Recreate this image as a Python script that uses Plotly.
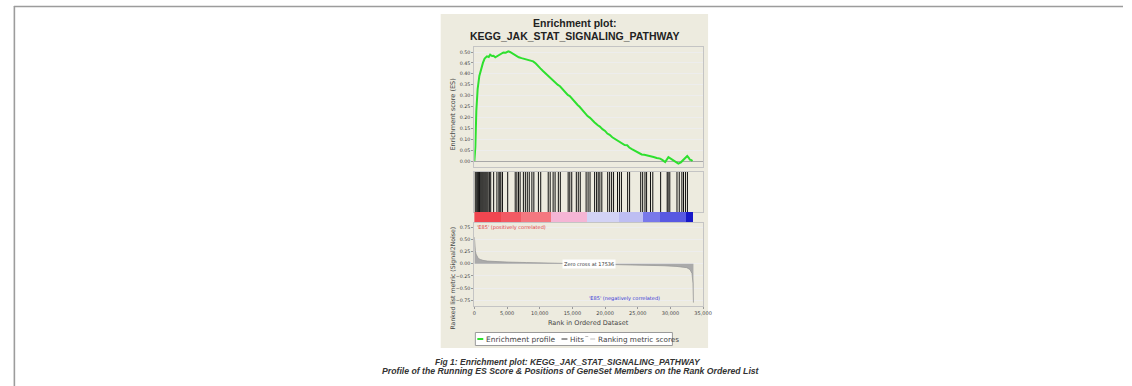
import plotly.graph_objects as go

# ---------------- data ----------------
es_rank = [0, 60, 150, 300, 500, 760, 1010, 1310, 1570, 1920, 2200, 2420, 2700, 2930, 3200,
           3430, 3700, 3940, 4200, 4440, 4800, 5200, 5450, 5700, 6100, 6460, 6800, 7220, 7700,
           8230, 8600, 8990, 9400, 9750, 10100, 10500, 10900, 11260, 11600, 12000, 12400,
           12780, 13100, 13500, 13900, 14290, 14600, 15000, 15400, 15800, 16100, 16500,
           16900, 17320, 17700, 18000, 18400, 18840, 19200, 19600, 20000, 20350, 20700,
           21100, 21500, 21870, 22200, 22600, 23000, 23380, 23700, 24100, 24500, 24900,
           25300, 25600, 26000, 26410, 26900, 27420, 27900, 28430, 28800, 29190, 29690,
           30050, 30450, 30800, 31210, 31600, 31970, 32300, 32570, 32800, 32980, 33200, 33380]
es_value = [0.0, 0.02, 0.065, 0.23, 0.33, 0.39, 0.42, 0.45, 0.47, 0.48, 0.477, 0.488, 0.482,
            0.483, 0.476, 0.48, 0.486, 0.49, 0.494, 0.498, 0.497, 0.503, 0.5, 0.495, 0.49,
            0.48, 0.476, 0.472, 0.468, 0.462, 0.459, 0.457, 0.447, 0.434, 0.425, 0.413,
            0.402, 0.388, 0.381, 0.368, 0.361, 0.349, 0.343, 0.328, 0.318, 0.303, 0.298,
            0.283, 0.268, 0.257, 0.249, 0.234, 0.222, 0.206, 0.198, 0.187, 0.177, 0.165,
            0.158, 0.146, 0.138, 0.126, 0.12, 0.109, 0.101, 0.095, 0.086, 0.082, 0.073,
            0.072, 0.062, 0.055, 0.049, 0.041, 0.036, 0.03, 0.029, 0.025, 0.02, 0.018, 0.014,
            0.011, 0.004, -0.005, 0.018, 0.01, 0.003, -0.004, -0.012, -0.006, 0.006, 0.012,
            0.023, 0.015, 0.006, 0.004, 0.0]

hit_ranks = [120, 260, 400, 520, 650, 780, 900, 1050, 1200, 1350, 1500, 1650, 1800, 1950,
             2100, 2300, 2500, 2950, 3450, 3750, 3900, 4050, 4300, 5100, 6250, 6500, 6750,
             7000, 7500, 7800, 8100, 8400, 8800, 9100, 9800, 10150, 11300, 11600, 12050,
             12350, 12850, 13150, 14350, 14600, 14900, 15600, 15900, 16200, 17100, 17400,
             17700, 18400, 18700, 18950, 19200, 19500, 20400, 20700, 21000, 21300, 21900,
             22200, 22500, 23450, 23750, 25450, 25750, 26100, 26350, 26950, 27300, 28500,
             29500, 29650, 29900, 31000, 31350, 31750, 32000, 32300, 32600]

metric_rank = [0, 30, 80, 150, 250, 400, 600, 900, 1300, 2000, 3000, 5000, 8000, 12000,
               15000, 17536, 20000, 23000, 26000, 29000, 31000, 32500, 33000, 33300, 33450, 33520]
metric_value = [0.55, 0.45, 0.35, 0.27, 0.2, 0.15, 0.11, 0.09, 0.07, 0.055, 0.045, 0.035,
                0.025, 0.015, 0.007, 0.0, -0.008, -0.018, -0.028, -0.04, -0.055, -0.08,
                -0.12, -0.2, -0.4, -0.8]

band_edges = [0, 4090, 7220, 11770, 17320, 22120, 25900, 28430, 32470, 33500]
band_colors = ["#F04650", "#F25A64", "#F47880", "#F5B5D5", "#D2D2F5", "#BEBEF2",
               "#7878EA", "#5858E2", "#1818C8"]

es_ticks = [0.0, 0.05, 0.10, 0.15, 0.20, 0.25, 0.30, 0.35, 0.40, 0.45, 0.50]
metric_ticks = [-0.75, -0.5, -0.25, 0.0, 0.25, 0.5, 0.75]
rank_ticks = [0, 5000, 10000, 15000, 20000, 25000, 30000, 35000]
zero_cross = 17536

# ---------------- figure ----------------
W, H = 1132, 386
def px(x): return x / W
def py(y): return 1 - y / H

FONT = "DejaVu Sans"
fig = go.Figure()

fig.add_trace(go.Scatter(x=es_rank, y=es_value, mode="lines",
                         line=dict(color="#2EE02E", width=2), xaxis="x", yaxis="y",
                         hoverinfo="skip"))

hx, hy = [], []
for r in hit_ranks:
    hx += [r, r, None]
    hy += [0, 1, None]
fig.add_trace(go.Scatter(x=hx, y=hy, mode="lines", line=dict(color="#111111", width=1),
                         xaxis="x2", yaxis="y2", hoverinfo="skip"))

widths = [band_edges[i + 1] - band_edges[i] for i in range(len(band_colors))]
fig.add_trace(go.Bar(x=widths, base=band_edges[:-1], y=[0] * len(widths), orientation="h",
                     marker=dict(color=band_colors, line=dict(width=0)), width=1,
                     xaxis="x3", yaxis="y3", hoverinfo="skip"))

fig.add_trace(go.Scatter(x=metric_rank, y=metric_value, mode="lines", fill="tozeroy",
                         fillcolor="#AAAAAA", line=dict(color="#999999", width=0.8),
                         xaxis="x4", yaxis="y4", hoverinfo="skip"))

xdom = [px(477), px(708)]
line_col = "#C4C4C4"
common_x = dict(domain=xdom, range=[0, 35000], showgrid=False, zeroline=False,
                showline=True, mirror=True, linecolor=line_col, linewidth=1)

fig.update_layout(
    width=W, height=H, margin=dict(l=0, r=0, t=0, b=0),
    paper_bgcolor="white", plot_bgcolor="white", showlegend=False,
    font=dict(family=FONT, color="#333333"),
    bargap=0,
    xaxis=dict(**common_x, anchor="y", showticklabels=False, ticks=""),
    yaxis=dict(domain=[py(167), py(47)], range=[-0.0275, 0.523], anchor="x",
               tickvals=es_ticks, tickformat=".2f", tickfont=dict(size=4.8, color="#444"),
               showgrid=True, gridcolor="#EDEDED", zeroline=True, zerolinecolor="#A8A8A8",
               zerolinewidth=1, showline=True, mirror=True, linecolor=line_col,
               ticks="outside", ticklen=2, tickcolor="#999"),
    xaxis2=dict(**common_x, anchor="y2", showticklabels=False, ticks=""),
    yaxis2=dict(domain=[py(212), py(172)], range=[0, 1], anchor="x2", showticklabels=False,
                showgrid=False, zeroline=False, showline=True, mirror=True, linecolor=line_col),
    xaxis3=dict(domain=xdom, range=[0, 35000], anchor="y3", showticklabels=False,
                showgrid=False, zeroline=False, showline=False),
    yaxis3=dict(domain=[py(223), py(212)], range=[-0.5, 0.5], anchor="x3",
                showticklabels=False, showgrid=False, zeroline=False, showline=False),
    xaxis4=dict(**common_x, anchor="y4", tickvals=rank_ticks, tickformat=",d",
                tickfont=dict(size=5, color="#444"), ticks="outside", ticklen=2,
                tickcolor="#999"),
    yaxis4=dict(domain=[py(306), py(223)], range=[-0.87, 0.84], anchor="x4",
                tickvals=metric_ticks, tickformat=".2f", tickfont=dict(size=4.8, color="#444"),
                showgrid=True, gridcolor="#EDEDED", zeroline=False, showline=True,
                mirror=True, linecolor=line_col, ticks="outside", ticklen=2, tickcolor="#999"),
)

shapes = [
    # beige panel
    dict(type="rect", xref="paper", yref="paper", x0=px(443), x1=px(713), y0=py(348),
         y1=py(14), fillcolor="#EDEBDF", line=dict(width=0), layer="below"),
    # outer border lines
    dict(type="line", xref="paper", yref="paper", x0=px(12), x1=1, y0=py(6.5), y1=py(6.5),
         line=dict(color="#9C9C9C", width=1.6)),
    dict(type="line", xref="paper", yref="paper", x0=px(12.5), x1=px(12.5), y0=0, y1=py(6),
         line=dict(color="#9C9C9C", width=1.6)),
    # legend box
    dict(type="rect", xref="paper", yref="paper", x0=px(478), x1=px(677), y0=py(345.5),
         y1=py(332.5), fillcolor="white", line=dict(color="#9A9A9A", width=1)),
    dict(type="line", xref="paper", yref="paper", x0=px(480), x1=px(486), y0=py(339),
         y1=py(339), line=dict(color="#2EE02E", width=2)),
    dict(type="line", xref="paper", yref="paper", x0=px(565), x1=px(571), y0=py(339),
         y1=py(339), line=dict(color="#333333", width=1)),
    dict(type="line", xref="paper", yref="paper", x0=px(589), x1=px(592), y0=py(336.5),
         y1=py(336.5), line=dict(color="#BBBBBB", width=1)),
    dict(type="line", xref="paper", yref="paper", x0=px(594), x1=px(599), y0=py(339),
         y1=py(339), line=dict(color="#BBBBBB", width=1)),
]
fig.update_layout(shapes=shapes)

ann = [
    dict(text="<b>Enrichment plot:</b>", x=px(578), y=py(23), font=dict(size=10.5,
         family="Liberation Sans", color="#222")),
    dict(text="<b>KEGG_JAK_STAT_SIGNALING_PATHWAY</b>", x=px(578), y=py(36),
         font=dict(size=10.5, family="Liberation Sans", color="#222")),
    dict(text="Enrichment score (ES)", x=px(455), y=py(115), textangle=-90,
         font=dict(size=6.5, color="#444")),
    dict(text="Ranked list metric (Signal2Noise)", x=px(455), y=py(278), textangle=-90,
         font=dict(size=6.2, color="#444")),
    dict(text="Rank in Ordered Dataset", x=px(592), y=py(323), font=dict(size=6.5, color="#444")),
    dict(text="Enrichment profile", x=px(486.5), y=py(339), xanchor="left",
         font=dict(size=7.5, color="#444")),
    dict(text="Hits", x=px(571.5), y=py(339), xanchor="left", font=dict(size=7.2, color="#444")),
    dict(text="Ranking metric scores", x=px(599.5), y=py(339), xanchor="left",
         font=dict(size=7.3, color="#444")),
    dict(text="<b><i>Fig 1: Enrichment plot: KEGG_JAK_STAT_SIGNALING_PATHWAY</i></b>",
         x=px(572), y=py(362), font=dict(size=8.5, family="Liberation Sans", color="#333")),
    dict(text="<b><i>Profile of the Running ES Score &amp; Positions of GeneSet Members on the Rank Ordered List</i></b>",
         x=px(575), y=py(370.5), font=dict(size=8.7, family="Liberation Sans", color="#333")),
]
for a in ann:
    a.setdefault("xref", "paper")
    a.setdefault("yref", "paper")
    a.setdefault("xanchor", "center")
    a.setdefault("yanchor", "middle")
    a["showarrow"] = False
    fig.add_annotation(**a)

# data-anchored labels in the ranked-list panel
fig.add_annotation(text="'E85' (positively correlated)", x=150, y=0.75, xref="x4", yref="y4",
                   xanchor="left", yanchor="middle", showarrow=False,
                   font=dict(size=5, color="#E03A3A"))
fig.add_annotation(text="Zero cross at " + str(zero_cross), x=zero_cross, y=0, xref="x4",
                   yref="y4", xanchor="center", yanchor="middle", showarrow=False,
                   bgcolor="white", font=dict(size=5, color="#333"))
fig.add_annotation(text="'E85' (negatively correlated)", x=28700, y=-0.72, xref="x4",
                   yref="y4", xanchor="right", yanchor="middle", showarrow=False,
                   font=dict(size=5, color="#3535D8"))

fig.write_html("out.html", config={"displayModeBar": False},
               post_script="document.body.style.margin='0';document.body.style.overflow='hidden';")
